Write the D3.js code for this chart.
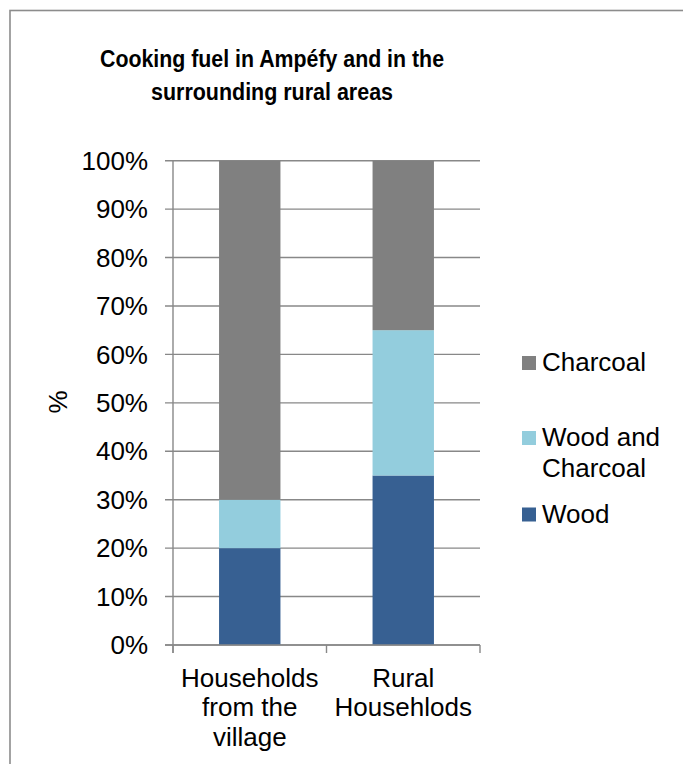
<!DOCTYPE html>
<html>
<head>
<meta charset="utf-8">
<script src="https://cdn.jsdelivr.net/npm/d3@7"></script>
<style>
  body { margin: 0; background: #fff; }
  text { font-family: "Liberation Sans", Arial, sans-serif; fill: #000; }
</style>
</head>
<body>
<div id="chart"></div>
<script>
// data
const categories = ["Households from the village", "Rural Househlods"];
const categoryLines = [["Households", "from the", "village"], ["Rural", "Househlods"]];
const seriesNames = ["Wood", "Wood and Charcoal", "Charcoal"];
const wood = [0.20, 0.35];
const woodAndCharcoal = [0.10, 0.30];
const charcoal = [0.70, 0.35];
const yTicks = [0, 0.1, 0.2, 0.3, 0.4, 0.5, 0.6, 0.7, 0.8, 0.9, 1.0];
const titleLines = ["Cooking fuel in Ampéfy and in the", "surrounding rural areas"];

const colors = { "Wood": "#376092", "Wood and Charcoal": "#93cddd", "Charcoal": "#808080" };
const gridColor = "#888888";

const width = 683, height = 764;
const plotLeft = 173, plotRight = 480, plotTop = 160.7, plotBottom = 645;

const svg = d3.select("#chart").append("svg")
    .attr("width", width)
    .attr("height", height);

// chart border (runs off the right and bottom edge)
svg.append("rect")
    .attr("x", 10).attr("y", 10.5)
    .attr("width", 700).attr("height", 800)
    .style("fill", "none")
    .style("stroke", "#8c8c8c")
    .style("stroke-width", 1.6);

// title - the original glyphs are a bit narrower than Liberation Sans Bold
const titleWidths = [344, 242];
svg.append("text")
    .attr("text-anchor", "middle")
    .style("font-size", "23.5px")
    .style("font-weight", "bold")
    .selectAll("tspan")
    .data(titleLines)
    .enter().append("tspan")
    .attr("x", 272)
    .attr("y", (d, i) => 66.5 + i * 33)
    .attr("textLength", (d, i) => titleWidths[i])
    .attr("lengthAdjust", "spacingAndGlyphs")
    .text(d => d);

const y = d3.scaleLinear().domain([0, 1]).range([plotBottom, plotTop]);
const x = d3.scaleBand().domain(categories).range([plotLeft, plotRight]).padding(0);
const barW = x.bandwidth() * 0.4;

// gridlines
svg.append("g").selectAll("line")
    .data(yTicks)
    .enter().append("line")
    .attr("x1", plotLeft - 8).attr("x2", plotRight)
    .attr("y1", d => y(d)).attr("y2", d => y(d))
    .style("stroke", gridColor)
    .style("stroke-width", 1.4);

// y labels
svg.append("g").selectAll("text")
    .data(yTicks)
    .enter().append("text")
    .attr("x", 148)
    .attr("y", d => y(d))
    .attr("dy", "0.35em")
    .attr("text-anchor", "end")
    .style("font-size", "26px")
    .text(d => d3.format(".0%")(d));

// y axis title
svg.append("text")
    .attr("transform", "translate(67,402) rotate(-90)")
    .attr("text-anchor", "middle")
    .style("font-size", "26px")
    .text("%");

// stacked bars
const rows = categories.map((c, i) => ({
  cat: c,
  "Wood": wood[i],
  "Wood and Charcoal": woodAndCharcoal[i],
  "Charcoal": charcoal[i]
}));
const stacked = d3.stack().keys(seriesNames)(rows);

svg.append("g").selectAll("g")
    .data(stacked)
    .enter().append("g")
    .style("fill", d => colors[d.key])
    .selectAll("rect")
    .data(d => d)
    .enter().append("rect")
    .attr("x", d => x(d.data.cat) + (x.bandwidth() - barW) / 2)
    .attr("y", d => y(d[1]))
    .attr("width", barW)
    .attr("height", d => y(d[0]) - y(d[1]));

// axes lines
svg.append("line")
    .attr("x1", plotLeft).attr("x2", plotLeft)
    .attr("y1", plotTop).attr("y2", plotBottom + 8)
    .style("stroke", gridColor).style("stroke-width", 1.4);
svg.append("line")
    .attr("x1", plotLeft - 8).attr("x2", plotRight)
    .attr("y1", plotBottom).attr("y2", plotBottom)
    .style("stroke", gridColor).style("stroke-width", 1.4);

const xTickPos = categories.map(c => x(c)).concat([plotRight]);
svg.append("g").selectAll("line")
    .data(xTickPos)
    .enter().append("line")
    .attr("x1", d => d).attr("x2", d => d)
    .attr("y1", plotBottom).attr("y2", plotBottom + 8)
    .style("stroke", gridColor).style("stroke-width", 1.4);

// x labels
const xl = svg.append("g").selectAll("text")
    .data(categories)
    .enter().append("text")
    .attr("text-anchor", "middle")
    .style("font-size", "26px");
xl.selectAll("tspan")
    .data((d, i) => categoryLines[i].map(t => ({ t: t, c: d })))
    .enter().append("tspan")
    .attr("x", d => x(d.c) + x.bandwidth() / 2)
    .attr("y", (d, i) => 686.5 + i * 29.5)
    .text(d => d.t);

// legend
const legendItems = [
  { key: "Charcoal", lines: ["Charcoal"], y: 356 },
  { key: "Wood and Charcoal", lines: ["Wood and", "Charcoal"], y: 431 },
  { key: "Wood", lines: ["Wood"], y: 507.5 }
];
const lg = svg.append("g").selectAll("g")
    .data(legendItems)
    .enter().append("g")
    .attr("transform", d => "translate(522," + d.y + ")");
lg.append("rect")
    .attr("width", 14).attr("height", 14)
    .style("fill", d => colors[d.key]);
lg.append("text")
    .style("font-size", "26px")
    .selectAll("tspan")
    .data(d => d.lines)
    .enter().append("tspan")
    .attr("x", 20)
    .attr("y", (d, i) => 15 + i * 31)
    .text(d => d);
</script>
</body>
</html>
